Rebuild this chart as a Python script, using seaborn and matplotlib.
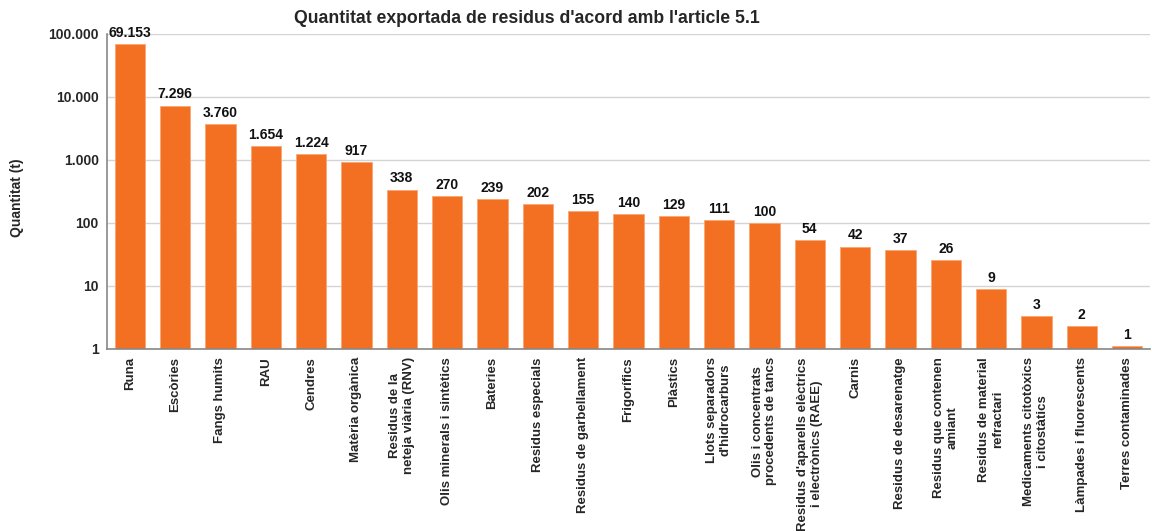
import matplotlib
import matplotlib.pyplot as plt
import matplotlib.ticker as mticker
import pandas as pd
import seaborn as sns

matplotlib.use("Agg")

categories = [
    "Runa",
    "Escòries",
    "Fangs humits",
    "RAU",
    "Cendres",
    "Matèria orgànica",
    "Residus de la\nneteja viària (RNV)",
    "Olis minerals i sintètics",
    "Bateries",
    "Residus especials",
    "Residus de garbellament",
    "Frigorífics",
    "Plàstics",
    "Llots separadors\nd'hidrocarburs",
    "Olis i concentrats\nprocedents de tancs",
    "Residus d'aparells elèctrics\ni electrònics (RAEE)",
    "Carnis",
    "Residus de desarenatge",
    "Residus que contenen\namiant",
    "Residus de material\nrefractari",
    "Medicaments citotòxics\ni citostàtics",
    "Làmpades i fluorescents",
    "Terres contaminades",
]
quantities = [69153, 7296, 3760, 1654, 1224, 917, 338, 270, 239, 202, 155, 140,
              129, 111, 100, 54, 42, 37, 26, 8.9, 3.3, 2.3, 1.1]
y_ticks = [1, 10, 100, 1000, 10000, 100000]

BAR = "#F36F21"

df = pd.DataFrame({"residu": categories, "quantitat": quantities})

sns.set_style("white")
plt.rcParams["font.family"] = ["Liberation Sans", "DejaVu Sans"]

fig = plt.figure(figsize=(11.52, 5.31), dpi=100)
ax = fig.add_axes([0.093, 0.343, 0.905, 0.593])

ax.set_yscale("log")
sns.barplot(data=df, x="residu", y="quantitat", color=BAR, width=0.67,
            edgecolor="#F9A772", linewidth=0.6, saturation=1, ax=ax)
ax.set_ylim(1, 100000)
ax.set_xlim(-0.5, len(categories) - 0.5)

# thousands with a dot, as in the original
fmt = lambda v: f"{round(v):,}".replace(",", ".")
ax.yaxis.set_major_locator(mticker.FixedLocator(y_ticks))
ax.yaxis.set_minor_locator(mticker.NullLocator())
ax.yaxis.set_major_formatter(mticker.FuncFormatter(lambda v, p: fmt(v)))
ax.grid(axis="y", color="#d4d4d4", linewidth=1)
ax.set_axisbelow(True)

for bar, v in zip(ax.patches, quantities):
    ax.annotate(fmt(v), (bar.get_x() + bar.get_width() / 2, bar.get_height()),
                xytext=(0, 3), textcoords="offset points", ha="center", va="bottom",
                fontsize=10, fontweight="bold", color="#111111")

ax.set_xticks(range(len(categories)))
ax.set_xticklabels(categories, rotation=90, fontsize=9.5, fontweight="bold",
                   multialignment="center", va="top", ha="center")
ax.tick_params(axis="x", length=0, pad=6)
ax.tick_params(axis="y", labelsize=10, length=4, color="#888888", pad=2)
for lab in ax.get_yticklabels():
    lab.set_fontweight("bold")

# small tick marks between categories
ax.set_xticks([i + 0.5 for i in range(len(categories) - 1)], minor=True)
ax.tick_params(axis="x", which="minor", length=4, color="#888888", direction="out")

for side in ["top", "right"]:
    ax.spines[side].set_visible(False)
for side in ["left", "bottom"]:
    ax.spines[side].set_color("#888888")
    ax.spines[side].set_linewidth(1.2)

ax.set_xlabel("")
ax.set_ylabel("Quantitat (t)", fontsize=10, fontweight="bold")
ax.yaxis.set_label_coords(-0.08, 0.48)
fig.text(0.457, 0.966, "Quantitat exportada de residus d'acord amb l'article 5.1",
         ha="center", va="center", fontsize=12.7, fontweight="bold")

fig.savefig("out.png", dpi=100)
plt.close()
